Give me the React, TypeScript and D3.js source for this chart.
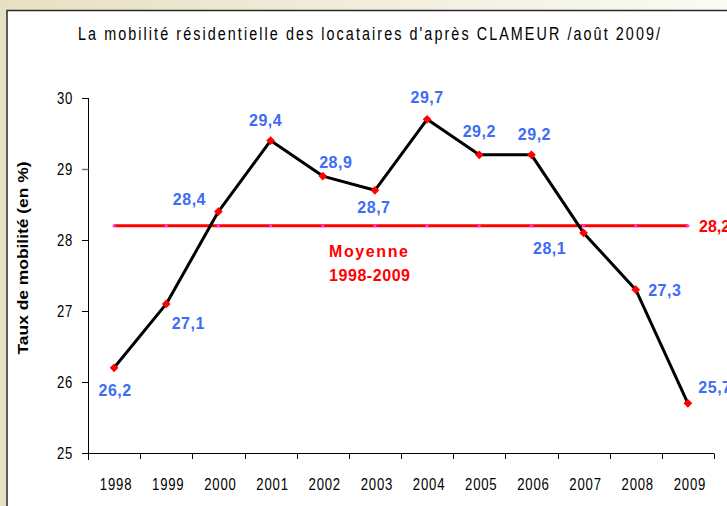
import React from "react";
import * as d3 from "d3";

const years = ["1998","1999","2000","2001","2002","2003","2004","2005","2006","2007","2008","2009"];
const rates = [26.2, 27.1, 28.4, 29.4, 28.9, 28.7, 29.7, 29.2, 29.2, 28.1, 27.3, 25.7];
const averageRate = 28.2;
const yTicks = [25, 26, 27, 28, 29, 30];
const titleText = "La mobilité résidentielle des locataires d'après CLAMEUR /août 2009/";
const yAxisTitle = "Taux de mobilité (en %)";
const avgLabelLines = ["Moyenne", "1998-2009"];

// label placement offsets (dx, dy) relative to each point, like the original
const labelOffsets: [number, number][] = [
  [1, 22], [22, 19], [-29, -13], [-5, -21], [13, -14], [-1, 17],
  [0, -22], [0, -24], [3, -21], [-34, 15], [29, 0], [27, -16],
];

const W = 727, H = 506;
const sans = "'Liberation Sans', Arial, sans-serif";
const NARROW = 0.82;

function NarrowText(props: { x: number; y: number; anchor?: string; size: number; spacing?: number; len?: number; children: string }) {
  const { x, y, anchor = "middle", size, spacing = 0, len, children } = props;
  return (
    <g transform={`translate(${x},${y}) scale(${NARROW},1)`}>
      <text x={0} y={0} textAnchor={anchor} fontFamily={sans} fontSize={size} letterSpacing={spacing} fill="#000"
        {...(len ? { textLength: len / NARROW, lengthAdjust: "spacing" } : {})}>{children}</text>
    </g>
  );
}

export default function App() {
  const x = d3.scaleBand<string>().domain(years).range([88, 714]).padding(0);
  const y = d3.scaleLinear().domain([25, 30]).range([453, 98]);
  const cx = (yr: string) => (x(yr) as number) + x.bandwidth() / 2;
  const line = d3.line<number>().x((_, i) => cx(years[i])).y((d) => y(d));
  const yAvg = y(averageRate);
  const xTickPos = [...years.map((yr) => x(yr) as number), 714];
  const marker = d3.symbol().type(d3.symbolSquare).size(38)() as string;

  return (
    <svg width={W} height={H} style={{ position: "absolute", left: 0, top: 0, display: "block" }}>
      <defs>
        <linearGradient id="bg" x1="0" y1="0" x2="1" y2="0">
          <stop offset="0" stopColor="#e6e0c3" />
          <stop offset="1" stopColor="#fbfbf4" />
        </linearGradient>
      </defs>
      <rect x={0} y={0} width={W} height={H} fill="url(#bg)" />
      <rect x={7} y={10.5} width={W} height={H} fill="#ffffff" stroke="#2a2a2a" strokeWidth={1.5} />

      <NarrowText x={369} y={40} size={17.5} len={582}>{titleText}</NarrowText>

      {/* y axis */}
      <line x1={88.5} x2={88.5} y1={98} y2={460} stroke="#000" strokeWidth={1} />
      {yTicks.map((t) => (
        <g key={t}>
          <line x1={82} x2={88.5} y1={Math.round(y(t)) + 0.5} y2={Math.round(y(t)) + 0.5}
            stroke={t === 29 ? "#777" : "#000"} strokeWidth={t === 29 ? 1.5 : 1} />
          <NarrowText x={73} y={y(t) + 5.5} anchor="end" size={16} spacing={0.8}>{String(t)}</NarrowText>
        </g>
      ))}
      <text transform={`translate(28,${258}) rotate(-90)`} textAnchor="middle" fontFamily={sans}
        fontWeight="bold" fontSize={14} fill="#000" textLength={193} lengthAdjust="spacingAndGlyphs">{yAxisTitle}</text>

      {/* x axis */}
      <line x1={82} x2={714} y1={453.5} y2={453.5} stroke="#000" strokeWidth={1} />
      {xTickPos.map((p, i) => (
        <line key={i} x1={Math.round(p) + 0.5} x2={Math.round(p) + 0.5} y1={453.5} y2={459} stroke="#000" strokeWidth={1} />
      ))}
      {years.map((yr) => (
        <NarrowText key={yr} x={cx(yr) + 2} y={489.5} size={16} spacing={1}>{yr}</NarrowText>
      ))}

      {/* average line */}
      <line x1={cx(years[0])} x2={cx(years[years.length - 1])} y1={yAvg} y2={yAvg} stroke="#ff0000" strokeWidth={3} />
      {years.map((yr) => (
        <circle key={yr} cx={cx(yr)} cy={yAvg} r={1.6} fill="#ff33ff" />
      ))}
      <text x={699} y={yAvg + 6} fontFamily={sans} fontWeight="bold" fontSize={16} fill="#ff0000">
        {String(averageRate).replace(".", ",")}
      </text>
      <text x={329} y={257} fontFamily={sans} fontWeight="bold" fontSize={16} fill="#ff0000"
        textLength={79} lengthAdjust="spacing">{avgLabelLines[0]}</text>
      <text x={329} y={281} fontFamily={sans} fontWeight="bold" fontSize={16} fill="#ff0000"
        textLength={81} lengthAdjust="spacing">{avgLabelLines[1]}</text>

      {/* data line */}
      <path d={line(rates) as string} fill="none" stroke="#000" strokeWidth={3} strokeLinejoin="round" />
      {rates.map((v, i) => (
        <path key={i} d={marker} transform={`translate(${cx(years[i])},${y(v)}) rotate(45)`} fill="#ff0000" />
      ))}
      {rates.map((v, i) => (
        <text key={i} x={cx(years[i]) + labelOffsets[i][0]} y={y(v) + labelOffsets[i][1] + 6}
          textAnchor="middle" fontFamily={sans} fontWeight="bold" fontSize={16} letterSpacing={0.5}
          fill="#3d6cf5">{String(v).replace(".", ",")}</text>
      ))}
    </svg>
  );
}
